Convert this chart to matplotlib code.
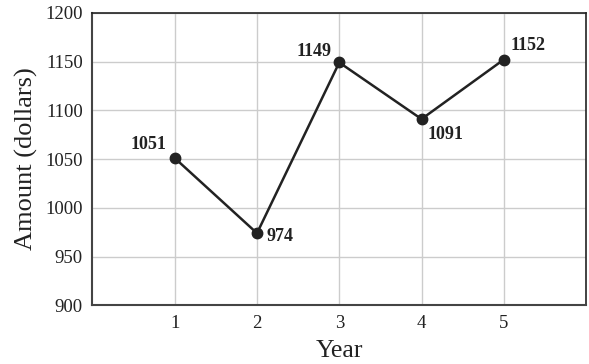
import matplotlib
matplotlib.use('Agg')
import matplotlib.pyplot as plt

# datos
years = [1, 2, 3, 4, 5]
amounts = [1051, 974, 1149, 1091, 1152]
# posicion de cada etiqueta respecto al punto (en puntos) y alineacion
offsets = [(-6, 10), (7, -2.5), (-5.5, 8), (4, -11.3), (4.8, 10.3)]
aligns = ['right', 'left', 'right', 'left', 'left']

plt.rcParams['font.family'] = 'Liberation Serif'

fig = plt.figure(figsize=(5.89, 3.64), dpi=100)
ax = fig.add_axes([0.157, 0.161, 0.838, 0.804])

ax.plot(years, amounts, color='#222222', linewidth=1.8, marker='o',
        markersize=7.5, zorder=3)

for x, y, off, ha in zip(years, amounts, offsets, aligns):
    ax.annotate(str(y), (x, y), xytext=off, textcoords='offset points',
                fontsize=13, fontweight='bold', color='#222222',
                ha=ha, va='center')

ax.set_xlim(0, 6)
ax.set_ylim(900, 1200)
ax.set_xticks(years)
ax.set_yticks(range(900, 1201, 50))
ax.tick_params(length=0, labelsize=13.5, pad=7, colors='#222222')
ax.grid(True, color='#cccccc', linewidth=1)
ax.set_axisbelow(True)

for s in ['left', 'bottom']:
    ax.spines[s].set_linewidth(1.5)
    ax.spines[s].set_color('#444444')
for s in ['top', 'right']:
    ax.spines[s].set_linewidth(1.2)
    ax.spines[s].set_color('#222222')

ax.set_xlabel('Year', fontsize=18.5, color='#222222', labelpad=6)
ax.set_ylabel('Amount (dollars)', fontsize=19, color='#222222', labelpad=5)

fig.savefig('out.png', dpi=100)
